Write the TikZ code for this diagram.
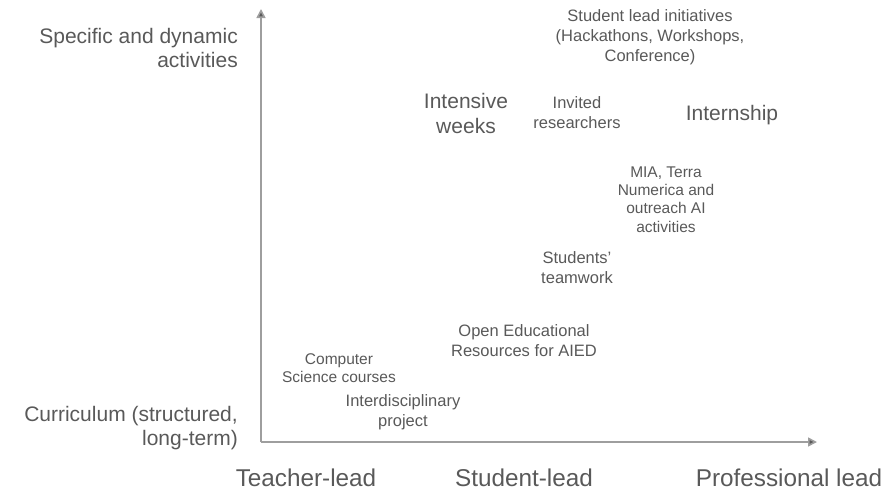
\documentclass[tikz,border=0pt]{standalone}
\usepackage{fontspec}
\setmainfont{Liberation Sans}
\usepackage{tikz}
\usetikzlibrary{arrows.meta}
\definecolor{txtgray}{HTML}{595959}
\definecolor{axgray}{HTML}{9E9E9E}
\tikzset{
  lbl/.style = {align=center, inner sep=0pt, text=txtgray,
    font=\fontsize{16.5}{20}\selectfont},
  smlbl/.style = {lbl, font=\fontsize{15.5}{18.4}\selectfont},
  biglbl/.style = {lbl, font=\fontsize{21}{25}\selectfont},
  axlbl/.style = {lbl, align=right, anchor=east,
    font=\fontsize{21}{24}\selectfont},
  tick/.style = {lbl, font=\fontsize{24.3}{28}\selectfont},
  axis/.style = {draw=axgray, line width=1.6pt,
    -{Triangle[length=9pt, width=9pt, fill=txtgray]}}
}
\begin{document}
\begin{tikzpicture}[x=1pt, y=-1pt]
\useasboundingbox (0,0) rectangle (886,491);
% axes
\coordinate (o) at (261,442);
\coordinate (top) at (261,9);
\coordinate (right) at (817,442);
\draw [axis] (o) -- (top);
\draw [axis] (o) -- (right);
% axis labels
\node [axlbl] (spec) at (238,48) {Specific and dynamic\\activities};
\node [axlbl] (curr) at (238,428) {Curriculum (structured,\\long-term)};
\node [tick] (teach) at (306,478) {Teacher-lead};
\node [tick] (stud) at (524,478) {Student-lead};
\node [tick] (prof) at (789,478) {Professional lead};
% activities
\node [lbl] (init) at (650,37) {Student lead initiatives\\(Hackathons, Workshops,\\Conference)};
\node [biglbl] (intens) at (466,113) {Intensive\\weeks};
\node [lbl] (invit) at (577,113) {Invited\\researchers};
\node [biglbl] (intern) at (732,115) {Internship};
\node [smlbl] (mia) at (666,199.5) {MIA, Terra\\Numerica and\\outreach AI\\activities};
\node [lbl] (team) at (577,267.5) {Students'\\teamwork};
\node [lbl] (oer) at (524,340.5) {Open Educational\\Resources for AIED};
\node [smlbl] (cs) at (339,368) {Computer\\Science courses};
\node [lbl] (inter) at (403,412) {Interdisciplinary\\project};
\end{tikzpicture}
\end{document}
